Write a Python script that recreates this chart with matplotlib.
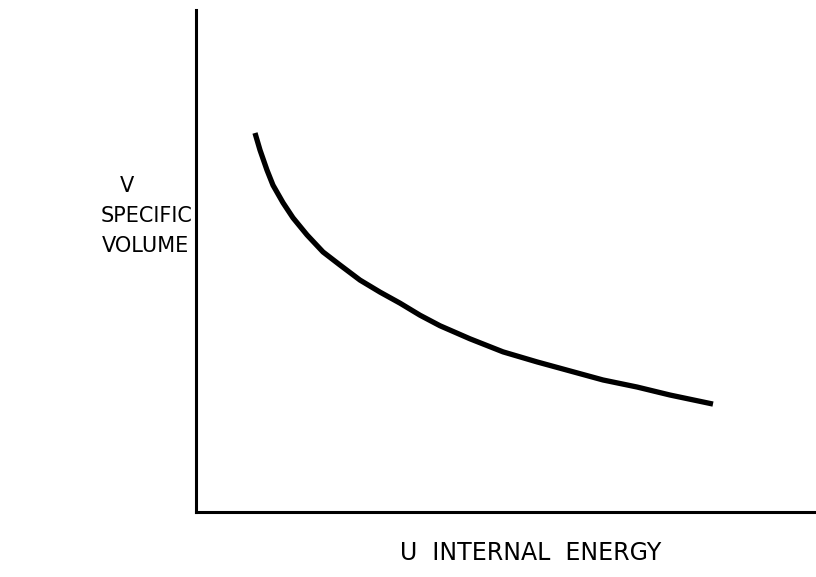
import matplotlib
matplotlib.use("Agg")
import matplotlib.pyplot as plt

energie_u = [0.953, 1.034, 1.147, 1.244, 1.406, 1.567, 1.793, 2.052, 2.326, 2.649, 2.973,
             3.296, 3.619, 3.942, 4.426, 4.960, 5.509, 6.042, 6.575, 7.124, 7.658, 8.352]
volume_v = [7.55, 7.21, 6.81, 6.51, 6.16, 5.86, 5.52, 5.18, 4.92, 4.62, 4.38,
            4.16, 3.92, 3.71, 3.45, 3.19, 2.99, 2.81, 2.63, 2.49, 2.33, 2.15]

label_y = ["V", "SPECIFIC", "VOLUME"]
label_x = "U  INTERNAL  ENERGY"

fig = plt.figure(figsize=(8.16, 5.77), dpi=100)
ax = fig.add_axes([196 / 816, 65 / 577, 619 / 816, 502 / 577])

ax.plot(energie_u, volume_v, color="black", linewidth=3.8,
        solid_capstyle="butt", solid_joinstyle="round")

ax.set_xlim(0, 10)
ax.set_ylim(0, 10)
ax.spines["top"].set_visible(False)
ax.spines["right"].set_visible(False)
ax.spines["left"].set_linewidth(2.2)
ax.spines["bottom"].set_linewidth(2.2)
ax.set_xticks([])
ax.set_yticks([])

# Titres des axes, écrits comme sur l'original
fs = 15
fig.text(127 / 816, 1 - 186 / 577, label_y[0], ha="center", va="center", fontsize=fs)
fig.text(147 / 816, 1 - 216 / 577, label_y[1], ha="center", va="center", fontsize=fs)
fig.text(145 / 816, 1 - 246 / 577, label_y[2], ha="center", va="center", fontsize=fs)

fig.text(531 / 816, 1 - 553 / 577, label_x, ha="center", va="center", fontsize=17)

plt.savefig("out.png", dpi=100)
